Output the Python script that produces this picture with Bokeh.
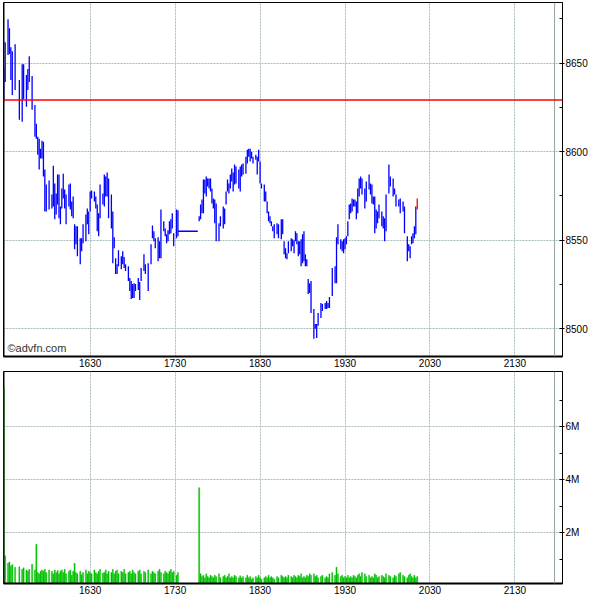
from bokeh.plotting import figure
from bokeh.layouts import column
from bokeh.models import Range1d, FixedTicker, Span, Label, ColumnDataSource
from bokeh.embed import file_html
from bokeh.resources import INLINE

# ---------------- data ----------------
open_minute = 929          # minutes after midnight of the first bar (15:29)
bar_offset = [0, 1, 3, 4, 5, 6, 8, 11, 13, 14,
              16, 17, 18, 20, 22, 23, 24, 25, 26, 27,
              28, 29, 30, 32, 34, 35, 36, 37, 38, 39,
              40, 41, 42, 43, 44, 46, 47, 48, 49, 50,
              51, 52, 54, 55, 56, 58, 59, 60, 61, 62,
              64, 65, 66, 67, 68, 70, 71, 72, 73, 74,
              76, 77, 78, 79, 80, 81, 83, 84, 85, 86,
              88, 89, 90, 91, 92, 93, 95, 96, 97, 99,
              100, 102, 104, 105, 106, 107, 109, 110, 111, 113,
              114, 115, 116, 117, 118, 119, 120, 122, 123,
              138, 139, 140, 141, 142, 143, 144, 145, 146, 147,
              148, 149, 150, 152, 153, 155, 156, 157, 158, 159,
              160, 161, 162, 163, 164, 166, 167, 168, 169, 171,
              172, 173, 174, 175, 176, 178, 179, 180, 181, 182,
              184, 185, 186, 187, 188, 189, 190, 191, 193, 194,
              196, 197, 198, 199, 200, 201, 203, 204, 205, 206,
              207, 208, 209, 210, 211, 212, 213, 214, 215, 216,
              217, 219, 220, 221, 222, 224, 225, 227, 228, 229,
              230, 232, 234, 235, 236, 238, 239, 240, 241, 242,
              243, 244, 245, 246, 247, 248, 249, 250, 251, 252,
              253, 255, 256, 258, 259, 260, 261, 262, 263, 264,
              265, 267, 268, 269, 270, 272, 273, 275, 276, 277,
              279, 280, 282, 283, 285, 286, 287, 288, 289, 290,
              291, 292]
bar_high = [8646.6, 8661.8, 8674.7, 8669.7, 8659.0, 8656.7, 8660.7, 8640.5, 8649.4, 8649.4,
            8643.3, 8646.6, 8653.9, 8642.7, 8626.4, 8615.7, 8608.4, 8607.3, 8601.7, 8606.2,
            8605.6, 8589.9, 8581.5, 8583.7, 8575.8, 8592.1, 8582.0, 8576.4, 8587.1, 8587.1,
            8569.1, 8579.2, 8587.6, 8578.7, 8575.8, 8581.5, 8582.0, 8571.9, 8574.7, 8559.0,
            8557.9, 8557.9, 8551.1, 8551.1, 8559.0, 8564.6, 8568.0, 8566.3, 8577.5, 8578.1,
            8577.5, 8574.7, 8570.2, 8565.2, 8581.5, 8576.4, 8587.1, 8586.0, 8588.2, 8584.8,
            8575.8, 8566.3, 8551.7, 8539.9, 8536.5, 8544.4, 8541.0, 8543.8, 8540.5, 8536.5,
            8535.4, 8528.7, 8527.0, 8525.3, 8525.8, 8525.3, 8528.7, 8526.4, 8534.3, 8542.1,
            8536.5, 8537.1, 8547.8, 8558.4, 8555.1, 8551.1, 8551.7, 8549.4, 8567.4, 8560.7,
            8556.7, 8553.4, 8555.6, 8560.7, 8561.8, 8565.2, 8553.9, 8567.4, 8566.9,
            8563.5, 8570.2, 8573.0, 8584.3, 8584.3, 8586.0, 8584.8, 8584.8, 8584.8, 8579.2,
            8573.6, 8573.0, 8570.8, 8559.6, 8563.5, 8569.1, 8568.0, 8577.5, 8584.3, 8582.0,
            8587.1, 8590.5, 8588.2, 8592.7, 8591.6, 8589.9, 8591.6, 8592.7, 8593.3, 8597.2,
            8601.1, 8601.7, 8601.7, 8600.0, 8597.2, 8598.3, 8597.2, 8601.1, 8594.4, 8582.0,
            8581.5, 8577.5, 8571.9, 8566.3, 8563.5, 8560.7, 8557.9, 8559.0, 8559.6, 8559.0,
            8561.8, 8561.8, 8549.4, 8545.5, 8542.7, 8549.4, 8551.1, 8550.6, 8550.0, 8555.1,
            8553.9, 8549.4, 8549.4, 8550.6, 8553.4, 8555.1, 8542.1, 8539.3, 8528.1, 8525.8,
            8527.0, 8511.2, 8502.8, 8502.8, 8509.0, 8514.6, 8514.0, 8514.6, 8515.7, 8514.6,
            8518.0, 8534.3, 8535.4, 8551.7, 8559.0, 8550.6, 8549.4, 8550.6, 8551.1, 8552.3,
            8560.7, 8570.2, 8570.8, 8573.6, 8573.0, 8573.0, 8571.9, 8579.2, 8584.8, 8586.0,
            8584.8, 8579.2, 8583.2, 8587.1, 8582.0, 8581.5, 8574.7, 8574.7, 8567.4, 8566.3,
            8570.2, 8566.3, 8563.5, 8562.4, 8575.8, 8592.7, 8586.0, 8584.8, 8579.2, 8575.8,
            8573.0, 8573.6, 8571.9, 8569.1, 8552.3, 8547.8, 8546.6, 8552.3, 8553.9, 8557.9,
            8569.1, 8573.6]
bar_low = [8628.1, 8639.3, 8654.5, 8655.1, 8640.5, 8632.0, 8634.8, 8618.0, 8616.9, 8629.8,
           8625.3, 8634.8, 8639.3, 8623.6, 8608.4, 8607.3, 8598.3, 8589.9, 8596.1, 8596.1,
           8586.0, 8566.3, 8566.3, 8567.4, 8568.0, 8569.1, 8561.8, 8564.6, 8570.2, 8562.4,
           8559.0, 8568.0, 8573.6, 8568.0, 8559.0, 8569.1, 8567.4, 8563.5, 8562.4, 8544.9,
           8547.8, 8541.0, 8536.5, 8543.8, 8548.3, 8549.4, 8559.0, 8553.4, 8566.3, 8573.6,
           8571.9, 8568.0, 8555.1, 8552.3, 8562.4, 8570.2, 8569.1, 8574.7, 8574.7, 8562.4,
           8556.7, 8537.1, 8545.5, 8530.9, 8530.9, 8535.4, 8533.7, 8536.5, 8534.3, 8532.6,
           8527.0, 8521.4, 8516.9, 8517.4, 8517.4, 8521.4, 8521.9, 8516.3, 8527.0, 8532.6,
           8530.9, 8521.4, 8536.5, 8551.1, 8549.4, 8545.5, 8538.2, 8539.9, 8539.9, 8555.1,
           8552.3, 8548.3, 8549.4, 8553.4, 8553.9, 8556.7, 8546.6, 8551.1, 8552.3,
           8560.7, 8561.8, 8565.2, 8565.2, 8576.4, 8574.7, 8580.3, 8579.2, 8577.5, 8570.8,
           8568.0, 8559.6, 8549.4, 8549.4, 8557.9, 8556.7, 8559.0, 8570.2, 8577.5, 8576.4,
           8579.2, 8583.2, 8577.5, 8581.5, 8582.0, 8579.2, 8577.5, 8586.0, 8587.1, 8587.6,
           8593.3, 8597.2, 8594.4, 8596.1, 8593.3, 8595.5, 8587.1, 8594.4, 8582.0, 8579.2,
           8571.9, 8571.9, 8565.2, 8560.7, 8559.6, 8557.9, 8555.1, 8551.1, 8553.4, 8551.1,
           8550.6, 8553.4, 8542.1, 8539.9, 8539.3, 8542.7, 8543.8, 8546.6, 8542.7, 8549.4,
           8547.8, 8541.0, 8542.1, 8535.4, 8537.1, 8538.2, 8535.4, 8535.4, 8519.7, 8520.2,
           8509.0, 8494.4, 8500.0, 8494.9, 8501.7, 8506.2, 8510.1, 8511.2, 8511.2, 8511.8,
           8511.8, 8518.5, 8525.8, 8525.8, 8547.8, 8544.9, 8543.8, 8542.7, 8544.9, 8547.8,
           8552.3, 8561.8, 8565.2, 8566.3, 8569.1, 8569.1, 8561.8, 8565.2, 8574.7, 8579.2,
           8575.8, 8568.0, 8571.9, 8578.7, 8575.8, 8570.8, 8570.2, 8553.9, 8556.7, 8559.6,
           8562.4, 8557.9, 8556.7, 8549.4, 8555.1, 8576.4, 8580.3, 8574.7, 8575.8, 8569.1,
           8569.1, 8565.2, 8566.3, 8553.9, 8538.2, 8543.8, 8539.9, 8547.8, 8548.3, 8551.1,
           8553.4, 8567.4]
volume_m = [7.45, 1.13, 0.85, 0.9, 0.75, 0.8, 0.7, 0.72, 0.62, 0.68,
            0.6, 0.55, 0.62, 0.82, 0.6, 1.57, 0.5, 0.45, 0.55, 0.6,
            0.55, 0.62, 0.5, 0.6, 0.55, 0.45, 0.6, 0.5, 0.58, 0.45,
            0.55, 0.6, 0.5, 0.62, 0.45, 0.55, 0.6, 0.4, 0.55, 0.85,
            0.5, 0.45, 0.55, 0.42, 0.5, 0.6, 0.45, 0.55, 0.5, 0.45,
            0.6, 0.5, 0.45, 0.55, 0.62, 0.48, 0.5, 0.6, 0.45, 0.55,
            0.5, 0.62, 0.45, 0.55, 0.6, 0.45, 0.55, 0.5, 0.62, 0.45,
            0.5, 0.55, 0.45, 0.6, 0.5, 0.45, 0.55, 0.6, 0.45, 0.55,
            0.5, 0.6, 0.45, 0.55, 0.5, 0.45, 0.55, 0.62, 0.5, 0.45,
            0.55, 0.5, 0.45, 0.55, 0.62, 0.5, 0.55, 0.4, 0.5,
            3.7, 0.45, 0.35, 0.4, 0.3, 0.45, 0.35, 0.3, 0.4, 0.35,
            0.3, 0.4, 0.35, 0.45, 0.3, 0.35, 0.4, 0.3, 0.35, 0.45,
            0.3, 0.35, 0.3, 0.4, 0.35, 0.3, 0.38, 0.3, 0.35, 0.3,
            0.4, 0.3, 0.35, 0.25, 0.3, 0.35, 0.3, 0.4, 0.3, 0.25,
            0.3, 0.35, 0.3, 0.4, 0.3, 0.35, 0.3, 0.25, 0.35, 0.3,
            0.4, 0.35, 0.3, 0.35, 0.3, 0.4, 0.35, 0.3, 0.4, 0.35,
            0.3, 0.4, 0.35, 0.45, 0.3, 0.35, 0.3, 0.4, 0.35, 0.45,
            0.4, 0.45, 0.35, 0.4, 0.3, 0.35, 0.4, 0.3, 0.35, 0.3,
            0.45, 0.5, 0.4, 0.7, 0.45, 0.35, 0.4, 0.3, 0.35, 0.3,
            0.4, 0.3, 0.35, 0.3, 0.4, 0.35, 0.3, 0.4, 0.45, 0.35,
            0.5, 0.45, 0.35, 0.4, 0.3, 0.35, 0.3, 0.45, 0.4, 0.3,
            0.35, 0.4, 0.35, 0.3, 0.45, 0.4, 0.35, 0.3, 0.4, 0.35,
            0.45, 0.5, 0.4, 0.35, 0.3, 0.4, 0.45, 0.35, 0.3, 0.4,
            0.3, 0.35]
idle_offsets = [123, 137]   # no trades: price held flat
idle_price = 8555.1
prev_close = 8629.2
session_end_minute = 1318
time_ticks = [990, 1050, 1110, 1170, 1230, 1290]
time_labels = ["1630", "1730", "1830", "1930", "2030", "2130"]
price_ticks = [8500, 8550, 8600, 8650]
price_minor = [8475, 8525, 8575, 8625, 8675]
vol_ticks = [2, 4, 6]
vol_minor = [1, 3, 5, 7]
vol_labels = ["2M", "4M", "6M"]

# ---------------- helpers ----------------
times = [open_minute + o for o in bar_offset]
n = min(len(times), len(bar_high), len(bar_low))
src = ColumnDataSource(dict(t=times[:n - 1], hi=bar_high[:n - 1], lo=bar_low[:n - 1]))
last = ColumnDataSource(dict(t=times[n - 1:n], hi=bar_high[n - 1:n], lo=bar_low[n - 1:n]))
nv = min(len(times), len(volume_m))
vsrc = ColumnDataSource(dict(t=times[:nv], v=volume_m[:nv]))

FONT = "Liberation Sans"
GRID = "#a9bcbc"
xr = Range1d(928.8, 1323.6)


def style(p, ticks, minor, labels=None):
    p.outline_line_color = "black"
    p.outline_line_width = 1
    p.background_fill_color = "white"
    p.border_fill_color = "white"
    xa = p.xaxis[0]
    xa.ticker = FixedTicker(ticks=time_ticks)
    xa.major_label_overrides = {t: l for t, l in zip(time_ticks, time_labels)}
    xa.major_tick_in = 0
    xa.major_tick_out = 0
    xa.minor_tick_in = 0
    xa.minor_tick_out = 0
    xa.axis_line_color = "black"
    xa.axis_line_width = 2
    xa.major_label_standoff = 2
    xa.major_label_text_font = FONT
    xa.major_label_text_font_size = "10px"
    xa.major_label_text_color = "black"
    ya = p.yaxis[0]
    ya.ticker = FixedTicker(ticks=ticks, minor_ticks=minor)
    if labels:
        ya.major_label_overrides = {t: l for t, l in zip(ticks, labels)}
    ya.major_tick_in = 3
    ya.major_tick_out = 2
    ya.minor_tick_in = 3
    ya.minor_tick_out = 0
    ya.major_tick_line_color = "black"
    ya.minor_tick_line_color = "black"
    ya.axis_line_color = "black"
    ya.major_label_standoff = 1
    ya.major_label_text_font = FONT
    ya.major_label_text_font_size = "10px"
    ya.major_label_text_color = "black"
    ya.major_label_text_align = "left"
    for g in (p.xgrid[0], p.ygrid[0]):
        g.grid_line_color = GRID
        g.grid_line_width = 1
        g.grid_line_dash = "2 1"
    p.xgrid[0].ticker = FixedTicker(ticks=time_ticks)
    p.ygrid[0].ticker = FixedTicker(ticks=ticks)
    p.add_layout(Span(location=session_end_minute, dimension="height",
                      line_color="#8fa3a3", line_width=1))
    p.add_layout(Span(location=xr.start, dimension="height",
                      line_color="black", line_width=2))


# ---------------- price panel ----------------
p1 = figure(frame_width=559, frame_height=354, x_range=xr,
            y_range=Range1d(8484.4, 8684.2), y_axis_location="right",
            toolbar_location=None, output_backend="svg",
            min_border_left=3, min_border_top=2, min_border_right=0, min_border_bottom=15)
style(p1, price_ticks, price_minor)
p1.add_layout(Span(location=prev_close, dimension="width", line_color="#ff0000", line_width=1.5))
p1.segment(x0=open_minute + idle_offsets[0], y0=idle_price,
           x1=open_minute + idle_offsets[1], y1=idle_price,
           line_color="#0000ff", line_width=1.3)
p1.segment(x0="t", y0="lo", x1="t", y1="hi", source=src, line_color="#0000ff", line_width=1.3)
p1.segment(x0="t", y0="lo", x1="t", y1="hi", source=last, line_color="#ff0000", line_width=1.3)
p1.add_layout(Label(x=xr.start, y=8484.4, x_offset=4, y_offset=3, text="©advfn.com",
                    text_font=FONT, text_font_size="11px", text_color="#333333"))

# ---------------- volume panel ----------------
p2 = figure(frame_width=559, frame_height=212, x_range=xr,
            y_range=Range1d(0.087, 8.08), y_axis_location="right",
            toolbar_location=None, output_backend="svg",
            min_border_left=3, min_border_top=0, min_border_right=0, min_border_bottom=14)
style(p2, vol_ticks, vol_minor, vol_labels)
p2.vbar(x="t", top="v", bottom=0, width=0.85, source=vsrc,
        fill_color="#00c800", line_color="#00b000", line_width=0.3)

layout = column(p1, p2, spacing=0)
open("out.html", "w").write(file_html(layout, INLINE))
